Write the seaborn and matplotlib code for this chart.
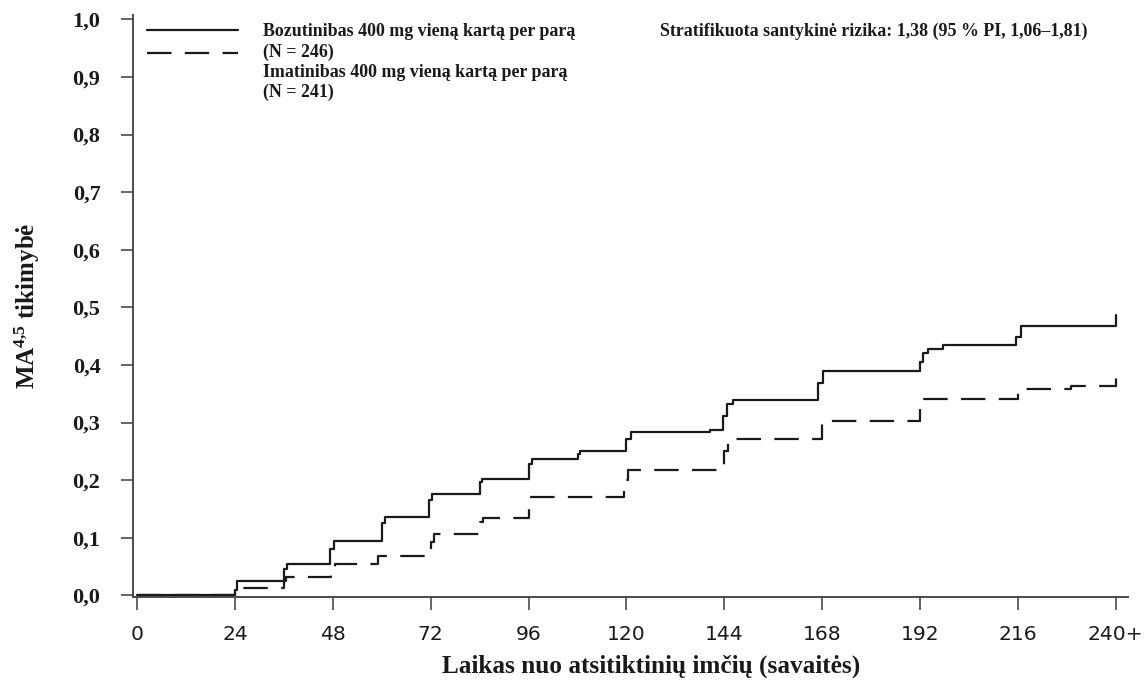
import numpy as np
import pandas as pd
import seaborn as sns
import matplotlib.pyplot as plt

# Kumuliatyvi MA tikimybė (nuskaityta iš paveikslo)
boz_weeks = [0, 24, 24.6, 36, 36.8, 47.4, 48.4, 60, 60.8, 71.6, 72.4, 84, 84.6,
             96, 96.8, 108, 108.6, 120, 121, 140.5, 143.6, 144.6, 146.2, 167, 168.2,
             192, 192.8, 194, 197.6, 215.6, 216.8, 240, 240]
boz_prob = [0, 0.010, 0.024, 0.045, 0.054, 0.080, 0.095, 0.125, 0.136, 0.165, 0.176, 0.196, 0.202,
            0.228, 0.237, 0.246, 0.251, 0.272, 0.283, 0.287, 0.312, 0.332, 0.339, 0.368, 0.390,
            0.405, 0.420, 0.427, 0.434, 0.448, 0.467, 0.467, 0.486]

ima_weeks = [0, 24, 24.6, 36, 36.6, 47.6, 48.6, 59, 72, 72.8, 84.2, 84.9, 96,
             119.5, 120.4, 144, 145, 168, 192, 192.8, 216, 217, 229, 240, 240]
ima_prob = [0, 0.005, 0.013, 0.025, 0.031, 0.045, 0.055, 0.069, 0.092, 0.107, 0.128, 0.135, 0.171,
            0.200, 0.218, 0.250, 0.271, 0.303, 0.325, 0.341, 0.352, 0.358, 0.363, 0.363, 0.389]

x_ticks = [0, 24, 48, 72, 96, 120, 144, 168, 192, 216, 240]
x_labels = ['0', '24', '48', '72', '96', '120', '144', '168', '192', '216', '240+']
y_ticks = [0.0, 0.1, 0.2, 0.3, 0.4, 0.5, 0.6, 0.7, 0.8, 0.9, 1.0]
y_labels = ['0,0', '0,1', '0,2', '0,3', '0,4', '0,5', '0,6', '0,7', '0,8', '0,9', '1,0']

arm_boz = 'Bozutinibas'
arm_ima = 'Imatinibas'
legend_lines = ["Bozutinibas 400 mg vieną kartą per parą", "(N = 246)",
                "Imatinibas 400 mg vieną kartą per parą", "(N = 241)"]
hr_text = "Stratifikuota santykinė rizika: 1,38 (95 % PI, 1,06–1,81)"

df = pd.concat([
    pd.DataFrame({'week': boz_weeks, 'prob': boz_prob, 'arm': arm_boz}),
    pd.DataFrame({'week': ima_weeks, 'prob': ima_prob, 'arm': arm_ima}),
], ignore_index=True)

sns.set_theme(style='ticks')
plt.rcParams['font.family'] = ['DejaVu Sans']
plt.rcParams['mathtext.fontset'] = 'custom'
plt.rcParams['mathtext.rm'] = 'Liberation Serif:bold'
plt.rcParams['mathtext.it'] = 'Liberation Serif:bold'
plt.rcParams['mathtext.bf'] = 'Liberation Serif:bold'

serif = 'Liberation Serif'
ink = '#1a1a1a'
axis_col = '#4a4a4a'

fig = plt.figure(figsize=(11.46, 6.81), dpi=100)
ax = fig.add_axes([0.1161, 0.1233, 0.8682, 0.855])

sns.lineplot(data=df, x='week', y='prob', style='arm', color=ink,
             dashes={arm_boz: '', arm_ima: (11, 6)}, estimator=None, sort=False,
             drawstyle='steps-post', linewidth=1.6, legend=False, ax=ax)

ax.set_xlim(-1, 243)
ax.set_ylim(-0.003, 1.008)
ax.set_xticks(x_ticks)
ax.set_xticklabels(x_labels, fontsize=14.6, color=ink)
ax.set_yticks(y_ticks)
ax.set_yticklabels(y_labels, fontsize=16, fontfamily=serif, fontweight='bold', color=ink)
ax.tick_params(axis='y', length=8.5, width=1.2, color=axis_col, pad=15)
ax.tick_params(axis='x', length=9, width=1.2, color=axis_col, pad=11)

for side in ['top', 'right']:
    ax.spines[side].set_visible(False)
for side in ['left', 'bottom']:
    ax.spines[side].set_color(axis_col)
    ax.spines[side].set_linewidth(1.4)

ax.set_xlabel("Laikas nuo atsitiktinių imčių (savaitės)", fontsize=18.2,
              fontfamily=serif, fontweight='bold', color=ink)
ax.xaxis.set_label_coords(0.521, -0.099)
ax.set_ylabel(r"MA$^{4{,}5}$ tikimybė", fontsize=18, fontfamily=serif,
              fontweight='bold', color=ink, labelpad=22)

# legenda
ax.plot([0.0138, 0.1058], [0.973, 0.973], transform=ax.transAxes, color=ink, lw=1.6)
ax.plot([0.0138, 0.1058], [0.9352, 0.9352], transform=ax.transAxes, color=ink, lw=1.6,
        dashes=(11, 6))
for txt, yy in zip(legend_lines, [0.9627, 0.9278, 0.8935, 0.8591]):
    ax.text(0.131, yy, txt, transform=ax.transAxes, fontsize=12.9,
            fontfamily=serif, fontweight='bold', color=ink, va='baseline', ha='left')
ax.text(0.5296, 0.9635, hr_text, transform=ax.transAxes, fontsize=12.9,
        fontfamily=serif, fontweight='bold', color=ink, va='baseline', ha='left')

plt.savefig('out.png', dpi=100)
